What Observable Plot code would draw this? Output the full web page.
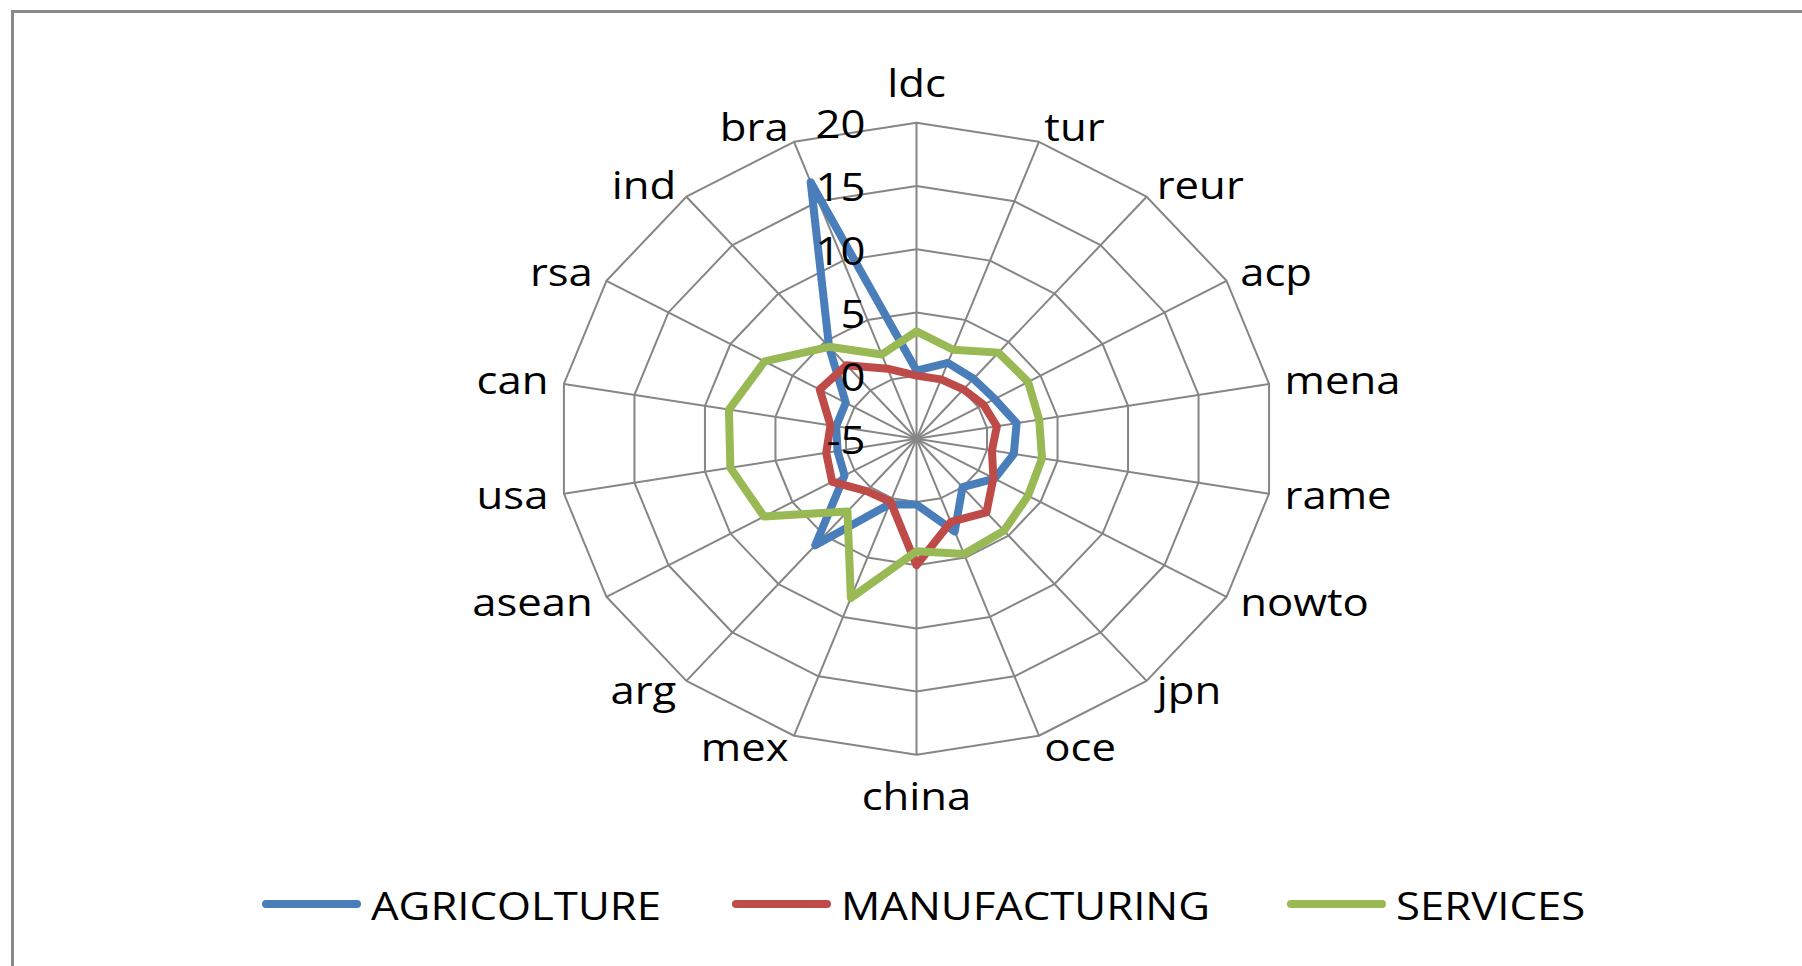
<!DOCTYPE html>
<html>
<head>
<meta charset="utf-8">
<script src="https://cdn.jsdelivr.net/npm/d3@7"></script>
<script src="https://cdn.jsdelivr.net/npm/@observablehq/plot@0.6"></script>
<style>
  html, body { margin: 0; padding: 0; background: #fff; overflow: hidden; width: 1802px; height: 966px; }
  #frame { position: absolute; left: 11px; top: 10px; width: 3000px; height: 3000px;
           border-left: 3px solid #898989; border-top: 3px solid #898989; }
  #chart { position: absolute; left: 0; top: 0; }
  #legend { position: absolute; left: 0; top: 879px; width: 1802px; height: 50px;
            font-family: "Open Sans", sans-serif; font-size: 39px; color: #000; }
  .item { position: absolute; top: 0; height: 50px; display: flex; align-items: center; white-space: nowrap; }
  .swatch { width: 99px; height: 8px; border-radius: 4px; margin-right: 10px; }
  .label { display: inline-block; transform: scaleX(1.12); transform-origin: left center; }
</style>
</head>
<body>
<div id="frame"></div>
<div id="chart"></div>
<div id="legend"></div>
<script>
// Regions, clockwise from the top
const categories = ["ldc", "tur", "reur", "acp", "mena", "rame", "nowto", "jpn", "oce",
                    "china", "mex", "arg", "asean", "usa", "can", "rsa", "ind", "bra"];

// Change by sector for each region
const agricolture   = [0.4, 1.4, 1.2, 1.3, 2.1, 1.9, 1.3, 0.0, 2.8, 0.2, 0.5, 6.0, 0.8, 0.6, 0.7, 0.7, 4.5, 16.6];
const manufacturing = [0.0, 0.0, 0.1, 0.4, 0.7, 0.35, 1.2, 2.6, 2.0, 5.0, 0.3, 0.4, 1.8, 1.4, 1.1, 2.8, 2.6, 0.9];
const services      = [3.5, 2.5, 3.9, 4.0, 3.7, 3.9, 4.0, 4.5, 4.7, 3.9, 8.4, 2.5, 7.3, 8.2, 8.3, 7.25, 4.5, 2.1];

const seriesNames  = ["AGRICOLTURE", "MANUFACTURING", "SERVICES"];
const seriesColors = ["#4A7EBB", "#BE4B48", "#98B954"];
const radialTicks  = [-5, 0, 5, 10, 15, 20];

// Radial axis runs from the centre value to the outer ring
const rMin = radialTicks[0], rMax = radialTicks[radialTicks.length - 1];
const span = rMax - rMin;
const step = 360 / categories.length;
const rad = a => a * Math.PI / 180;
const px = (r, a) => r * Math.sin(rad(a));
const py = (r, a) => r * Math.cos(rad(a));

const seriesValues = [agricolture, manufacturing, services];
const seriesPoints = seriesValues.flatMap((vals, s) =>
  vals.map((v, i) => ({series: seriesNames[s], cat: categories[i],
                       x: px(v - rMin, i * step), y: py(v - rMin, i * step)})));

const ringPoints = radialTicks.slice(1).flatMap(t =>
  categories.map((c, i) => ({level: t, x: px(t - rMin, i * step), y: py(t - rMin, i * step)})));

const spokes = categories.map((c, i) => ({x1: 0, y1: 0, x2: px(span, i * step), y2: py(span, i * step)}));

const labelGap = 1.1;
const labels = categories.map((c, i) => ({c, a: i * step,
  x: px(span + labelGap, i * step), y: py(span + labelGap, i * step)}));
const rightLabels = labels.filter(d => d.a > 0 && d.a < 180);
const leftLabels = labels.filter(d => d.a > 180);
const topLabels = labels.filter(d => d.a === 0).map(d => ({...d, x: 0, y: span}));
const bottomLabels = labels.filter(d => d.a === 180).map(d => ({...d, x: 0, y: -span}));

const cx = 916, cy = 438.3, rx = 358, ry = 316;
const grid = "#868686";

const chart = Plot.plot({
  width: 1802,
  height: 860,
  margin: 0,
  x: {domain: [-span, span], range: [cx - rx, cx + rx], axis: null},
  y: {domain: [-span, span], range: [cy + ry, cy - ry], axis: null},
  color: {domain: seriesNames, range: seriesColors},
  style: {fontFamily: "'Open Sans', sans-serif", fontSize: "39px", background: "transparent", color: "#000"},
  marks: [
    Plot.line(ringPoints, {x: "x", y: "y", z: "level", curve: "linear-closed", stroke: grid, strokeWidth: 2}),
    Plot.link(spokes, {x1: "x1", y1: "y1", x2: "x2", y2: "y2", stroke: grid, strokeWidth: 2}),
    Plot.line(seriesPoints, {x: "x", y: "y", z: "series", stroke: "series", curve: "linear-closed",
                             strokeWidth: 8, strokeLinejoin: "round", strokeLinecap: "round"}),
    Plot.text(radialTicks, {x: 0, y: d => d - rMin, text: d => String(d), textAnchor: "end",
                            dx: -51, dy: 3, fill: "#000"}),
    Plot.text(rightLabels, {x: "x", y: "y", text: "c", textAnchor: "start", fill: "#000"}),
    Plot.text(leftLabels, {x: "x", y: "y", text: "c", textAnchor: "end", fill: "#000"}),
    Plot.text(topLabels, {x: "x", y: "y", text: "c", textAnchor: "middle", dy: -38, fill: "#000"}),
    Plot.text(bottomLabels, {x: "x", y: "y", text: "c", textAnchor: "middle", dy: 43, fill: "#000"})
  ]
});

// Widen the lettering slightly around each text anchor
chart.querySelectorAll("text").forEach(t => {
  const tr = t.getAttribute("transform") || "";
  t.setAttribute("transform", (tr + " scale(1.12,1)").trim());
});
document.getElementById("chart").appendChild(chart);

// Legend
const legendLefts = [262, 732, 1287];
const legend = document.getElementById("legend");
seriesNames.forEach((name, i) => {
  const item = document.createElement("div");
  item.className = "item";
  item.style.left = legendLefts[i] + "px";
  const sw = document.createElement("span");
  sw.className = "swatch";
  sw.style.background = seriesColors[i];
  const lb = document.createElement("span");
  lb.className = "label";
  lb.textContent = name;
  item.appendChild(sw);
  item.appendChild(lb);
  legend.appendChild(item);
});
</script>
</body>
</html>
